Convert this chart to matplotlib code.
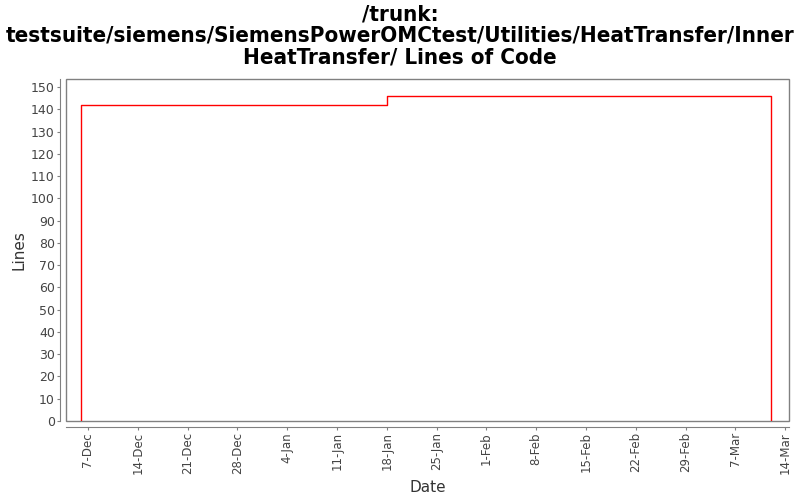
import matplotlib
matplotlib.use("Agg")
import matplotlib.pyplot as plt
import matplotlib.dates as mdates
from matplotlib.patches import Rectangle
import datetime as dt

# Data
dates = ["2007-12-06", "2008-01-18", "2008-03-12"]
lines = [142, 146, 0]
tick_dates = ["2007-12-07", "2007-12-14", "2007-12-21", "2007-12-28", "2008-01-04",
              "2008-01-11", "2008-01-18", "2008-01-25", "2008-02-01", "2008-02-08",
              "2008-02-15", "2008-02-22", "2008-02-29", "2008-03-07", "2008-03-14"]
tick_labels = ["7-Dec", "14-Dec", "21-Dec", "28-Dec", "4-Jan", "11-Jan", "18-Jan", "25-Jan",
               "1-Feb", "8-Feb", "15-Feb", "22-Feb", "29-Feb", "7-Mar", "14-Mar"]
y_ticks = list(range(0, 151, 10))

title = "/trunk:\ntestsuite/siemens/SiemensPowerOMCtest/Utilities/HeatTransfer/Inner\nHeatTransfer/ Lines of Code"

d = [dt.datetime.fromisoformat(s) for s in dates]
td = [dt.datetime.fromisoformat(s) for s in tick_dates]

fig = plt.figure(figsize=(8, 5), dpi=100)
ax = fig.add_axes([66/800, 1-421/500, (789-66)/800, (421-79)/500])

# step series: start at 0, rise, steps, drop to 0 at end
xs = [d[0], d[0], d[1], d[1], d[2], d[2]]
ys = [0, lines[0], lines[0], lines[1], lines[1], lines[2]]
ax.plot(xs, ys, color="#ff0000", lw=1.0)

ax.set_xlim(dt.datetime(2007, 12, 3, 22), dt.datetime(2008, 3, 14, 13))
ax.set_ylim(0, 153.6)

gray = "#808080"
for s in ["top", "right"]:
    ax.spines[s].set_visible(False)
ax.spines["left"].set_position(("outward", 4))
ax.spines["bottom"].set_position(("outward", 4))
ax.spines["left"].set_color(gray)
ax.spines["bottom"].set_color(gray)
ax.add_patch(Rectangle((0, 0), 1, 1, transform=ax.transAxes, fill=False,
                       edgecolor=gray, lw=1.0, clip_on=False))

ax.set_yticks(y_ticks)
ax.set_xticks(td)
ax.set_xticklabels(tick_labels, rotation=90)
ax.tick_params(axis="both", colors=gray, labelcolor="#444444",
               length=2, direction="out", pad=2)
ax.tick_params(axis="y", labelsize=9)
ax.tick_params(axis="x", labelsize=8.5)

ax.set_ylabel("Lines", fontsize=11, color="#333333", labelpad=3)
ax.set_xlabel("Date", fontsize=11, color="#333333", labelpad=4)

fig.suptitle(title, fontsize=16, fontweight="bold", fontstretch="condensed",
             y=0.992, va="top", linespacing=1.12)

fig.savefig("out.png", dpi=100)
